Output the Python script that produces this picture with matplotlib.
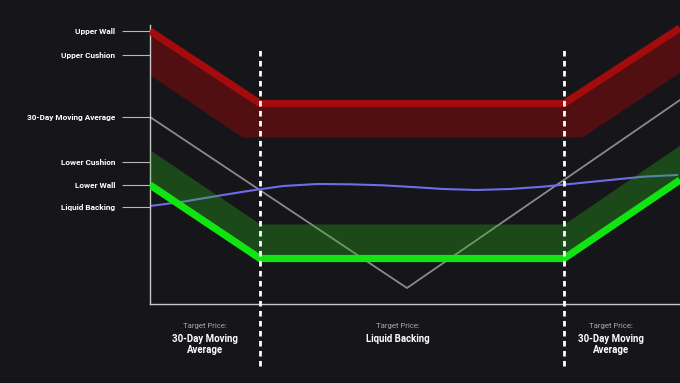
import matplotlib
matplotlib.use("Agg")
import matplotlib.pyplot as plt
import numpy as np

BG = "#161519"

# ---- data (x: time units, y: price units) ----
wall_x = [0, 110, 414, 530]
upper_wall = [273, 200.5, 200.5, 276]
upper_cushion_x = [0, 92, 432, 530]
upper_cushion = [229, 167, 167, 232]
lower_wall = [119, 45.5, 45.5, 124]
lower_cushion = [154, 80, 80, 159]
ma_x = [0, 257, 530]
ma_30 = [187, 16, 204]
lb_x = [0, 33, 67, 100, 133, 167, 200, 233, 267, 293, 327, 360, 393, 427, 460, 493, 527]
liquid_backing = [98, 102.3, 108, 113.3, 118, 120, 119.7, 118.7, 116.7, 115, 114,
                  115, 117.3, 120.7, 124, 127.3, 129]
tick_values = [273, 249, 187, 142, 119, 97]
tick_labels = ["Upper Wall", "Upper Cushion", "30-Day Moving Average",
               "Lower Cushion", "Lower Wall", "Liquid Backing"]
boundaries = [110, 414]
region_centers = [55, 248, 461]
region_titles = ["30-Day Moving\nAverage", "Liquid Backing", "30-Day Moving\nAverage"]

fig = plt.figure(figsize=(6.8, 3.83), dpi=100, facecolor=BG)
ax = fig.add_axes([150 / 680, 79 / 383, 530 / 680, 279 / 383])
ax.set_facecolor(BG)
ax.set_xlim(0, 530)
ax.set_ylim(0, 279)

# upper band (red)
ub_x = sorted(set(wall_x + upper_cushion_x))
top_interp = np.interp(ub_x, wall_x, upper_wall)
bot_interp = np.interp(ub_x, upper_cushion_x, upper_cushion)
ax.fill_between(ub_x, bot_interp, top_interp, color="#520f11", lw=0, zorder=2)
ax.plot(wall_x, upper_wall, color="#a30b0c", lw=5.2, solid_joinstyle="miter",
        solid_capstyle="butt", zorder=3)

# 30-day MA (gray)
ax.plot(ma_x, ma_30, color="#8a8a8a", lw=1.3, zorder=2)

# liquid backing (blue)
ax.plot(lb_x, liquid_backing, color="#6e6ce8", lw=1.5, zorder=2,
        solid_joinstyle="round")

# lower band (green)
ax.fill_between(wall_x, lower_wall, lower_cushion, color=(0.16, 0.72, 0.12),
                alpha=0.32, lw=0, zorder=3)
ax.plot(wall_x, lower_wall, color="#12e312", lw=5.2, solid_joinstyle="miter",
        solid_capstyle="butt", zorder=4)

# dashed boundaries
ax.vlines(boundaries, -62, 256, colors="white", lw=2.0, linestyles=(0, (2.0, 1.6)),
          clip_on=False, zorder=6)

# spines / ticks
for s in ["top", "right"]:
    ax.spines[s].set_visible(False)
for s in ["left", "bottom"]:
    ax.spines[s].set_color("#c8c8c8")
    ax.spines[s].set_linewidth(1.0)
ax.set_xticks([])
ax.set_yticks(tick_values)
ax.set_yticklabels(tick_labels, fontfamily="Roboto", fontweight="bold",
                   fontsize=5.95, color="white")
ax.tick_params(axis="y", length=20, width=0.8, color="#b8b8b8", pad=5)

# bottom region labels
for cx, title in zip(region_centers, region_titles):
    ax.text(cx, -22, "Target Price:", ha="center", va="center", fontsize=5.6,
            family="Roboto", color="#a8a8a8", clip_on=False)
    ax.text(cx, -29.5, title, ha="center", va="top", fontsize=6.9,
            family="Roboto", fontweight="bold", color="white",
            linespacing=1.2, clip_on=False)

fig.savefig("out.png", dpi=100, facecolor=BG)
